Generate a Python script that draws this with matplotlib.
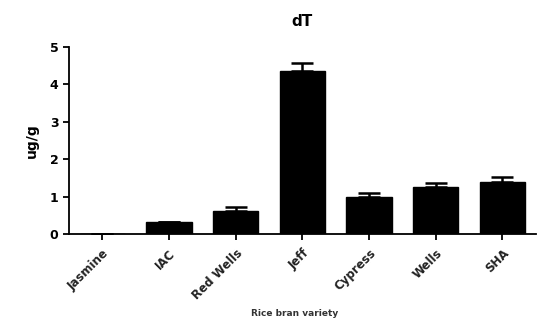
import numpy as np
import matplotlib
matplotlib.use('Agg')
import matplotlib.pyplot as plt

varieties = ['Jasmine', 'IAC', 'Red Wells', 'Jeff', 'Cypress', 'Wells', 'SHA']
means = [0.0, 0.34, 0.62, 4.36, 1.00, 1.27, 1.39]
errs = [0.0, 0.0, 0.11, 0.20, 0.11, 0.11, 0.15]

fig = plt.figure(figsize=(5.39, 3.26), dpi=100)
ax = fig.add_axes([0.128, 0.281, 0.866, 0.576])

x = np.arange(len(varieties))
ax.bar(x, means, width=0.68, color='black', edgecolor='black')
ax.errorbar(x, means, yerr=[np.zeros(len(errs)), errs], fmt='none',
            ecolor='black', elinewidth=1.8, capsize=8, capthick=1.8)

ax.set_xlim(-0.5, 6.5)
ax.set_ylim(0, 5)
ax.set_yticks([0, 1, 2, 3, 4, 5])
ax.set_xticks(x)
ax.set_xticklabels(varieties, rotation=45, ha='right', rotation_mode='anchor',
                   fontsize=8.5, fontweight='bold', color='#222222')
for lbl in ax.get_yticklabels():
    lbl.set_fontsize(9)
    lbl.set_fontweight('bold')

for side in ['top', 'right']:
    ax.spines[side].set_visible(False)
for side in ['left', 'bottom']:
    ax.spines[side].set_linewidth(1.3)
ax.tick_params(axis='both', width=1.3, length=4)
ax.tick_params(axis='x', pad=5)

ax.set_ylabel('ug/g', fontsize=10, fontweight='bold', labelpad=8)
ax.set_title('dT', fontsize=11, fontweight='bold', pad=15)
fig.text(0.547, 0.037, 'Rice bran variety', ha='center', va='center',
         fontsize=6.5, fontweight='bold', color='#333333')

fig.savefig('out.png', dpi=100)
